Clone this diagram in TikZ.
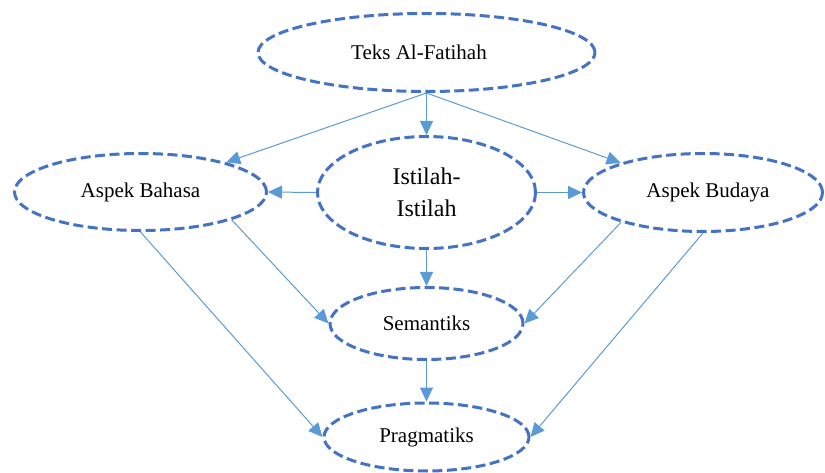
\documentclass[tikz,border=0pt]{standalone}
\usepackage{fontspec}
\setmainfont{Liberation Serif}
\usetikzlibrary{shapes.geometric,arrows.meta}
\definecolor{ellblue}{RGB}{68,114,196}
\definecolor{arrblue}{RGB}{91,155,213}
\tikzset{
  ell/.style={ellipse, draw=ellblue, line width=3pt, dash pattern=on 10pt off 4.5pt, inner sep=0pt, font=\fontsize{21}{25}\selectfont, text=black},
  conn/.style={draw=arrblue, line width=1pt, -{Triangle[length=14pt,width=13pt]}}
}
\begin{document}
\begin{tikzpicture}[x=1pt,y=-1pt]
\useasboundingbox (0,0) rectangle (825,473);
\node[ell, minimum width=337pt, minimum height=78pt] (teks) at (426.5,52.5) {\hspace*{-15pt}Teks Al-Fatihah};
\node[ell, minimum width=252pt, minimum height=77pt] (bahasa) at (140.5,192) {Aspek Bahasa};
\node[ell, minimum width=218pt, minimum height=112pt, align=center, font=\fontsize{24}{32}\selectfont] (istilah) at (426.5,192.5) {Istilah-\\Istilah};
\node[ell, minimum width=239pt, minimum height=78pt] (budaya) at (703,192.5) {\hspace*{10pt}Aspek Budaya};
\node[ell, minimum width=193pt, minimum height=72pt] (sem) at (426.5,323.5) {Semantiks};
\node[ell, minimum width=205pt, minimum height=68pt] (prag) at (426.5,437) {Pragmatiks};

\draw[conn] (teks.south) -- (bahasa);
\draw[conn] (teks.south) -- (istilah.north);
\draw[conn] (teks.south) -- (budaya);
\draw[conn] (istilah.west) -- (bahasa.east);
\draw[conn] (istilah.east) -- (budaya.west);
\draw[conn] (istilah.south) -- (sem.north);
\draw[conn] (bahasa.-17.4) -- (sem.west);
\draw[conn] (budaya.-160.6) -- (sem.east);
\draw[conn] (bahasa.south) -- (prag.west);
\draw[conn] (budaya.south) -- (prag.east);
\draw[conn] (sem.south) -- (prag.north);
\end{tikzpicture}
\end{document}
